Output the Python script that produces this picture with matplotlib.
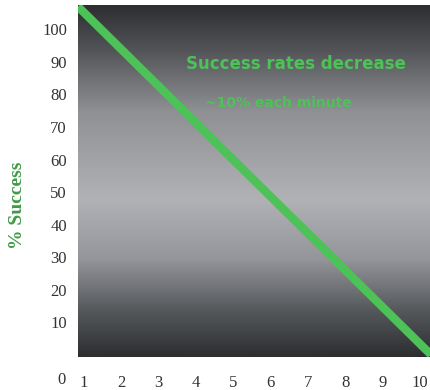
import numpy as np
import matplotlib
matplotlib.use("Agg")
import matplotlib.pyplot as plt
from matplotlib.colors import LinearSegmentedColormap

# data
x_ticks = [1, 2, 3, 4, 5, 6, 7, 8, 9, 10]
y_ticks = [10, 20, 30, 40, 50, 60, 70, 80, 90, 100]
line_x = [0.85, 10.3]
line_y = [107, 0]
note_lines = ["Success rates decrease", "~10% each minute"]

green = "#4cc257"
serif = ["Liberation Serif", "DejaVu Serif"]

fig = plt.figure(figsize=(4.31, 3.90), dpi=100)
ax = fig.add_axes([78 / 431, 1 - 357 / 390, 1 - 78 / 431, 352 / 390])

# vertical gray gradient (top -> bottom), dark at both ends
bg = LinearSegmentedColormap.from_list("bg", [
    (0.0, "#2c2e31"), (0.12, "#505256"), (0.3, "#8e9094"),
    (0.55, "#b0b2b6"), (0.72, "#94969b"), (0.87, "#55585b"), (1.0, "#2c2e30")])
grad = np.linspace(0, 1, 256).reshape(-1, 1)
ax.imshow(grad, cmap=bg, aspect="auto", extent=[0.85, 10.3, -0.7, 107.5],
          origin="upper", zorder=0, interpolation="bilinear")

ax.plot(line_x, line_y, color=green, lw=6, solid_capstyle="butt", zorder=2)

ax.text(6.69, 89.5, note_lines[0], color=green, fontsize=12, fontweight="bold",
        ha="center", va="center", family="DejaVu Sans", zorder=3)
ax.text(4.25, 77.5, note_lines[1], color=green, fontsize=10, fontweight="bold",
        ha="left", va="center", family="DejaVu Sans", zorder=3)

ax.set_xlim(0.85, 10.3)
ax.set_ylim(-0.7, 107.5)
ax.set_xticks(x_ticks)
ax.set_yticks(y_ticks)
ax.set_xticklabels([str(v) for v in x_ticks], family=serif, fontsize=12)
ax.set_yticklabels([str(v) for v in y_ticks], family=serif, fontsize=12)
ax.tick_params(axis="x", length=0, pad=13, colors="#333333")
ax.tick_params(axis="y", length=0, pad=8, colors="#333333")
for s in ax.spines.values():
    s.set_visible(False)

# lone "0" at the origin corner
ax.text(0.41, -0.066, "0", transform=ax.get_xaxis_transform(), ha="center",
        va="center", family=serif, fontsize=12, color="#333333", clip_on=False)

fig.text(18 / 431, 1 - 205 / 390, "% Success", rotation=90, color="#3f9b47",
         fontsize=14, fontweight="bold", family=serif, ha="center", va="center")

fig.savefig("out.png", dpi=100)
